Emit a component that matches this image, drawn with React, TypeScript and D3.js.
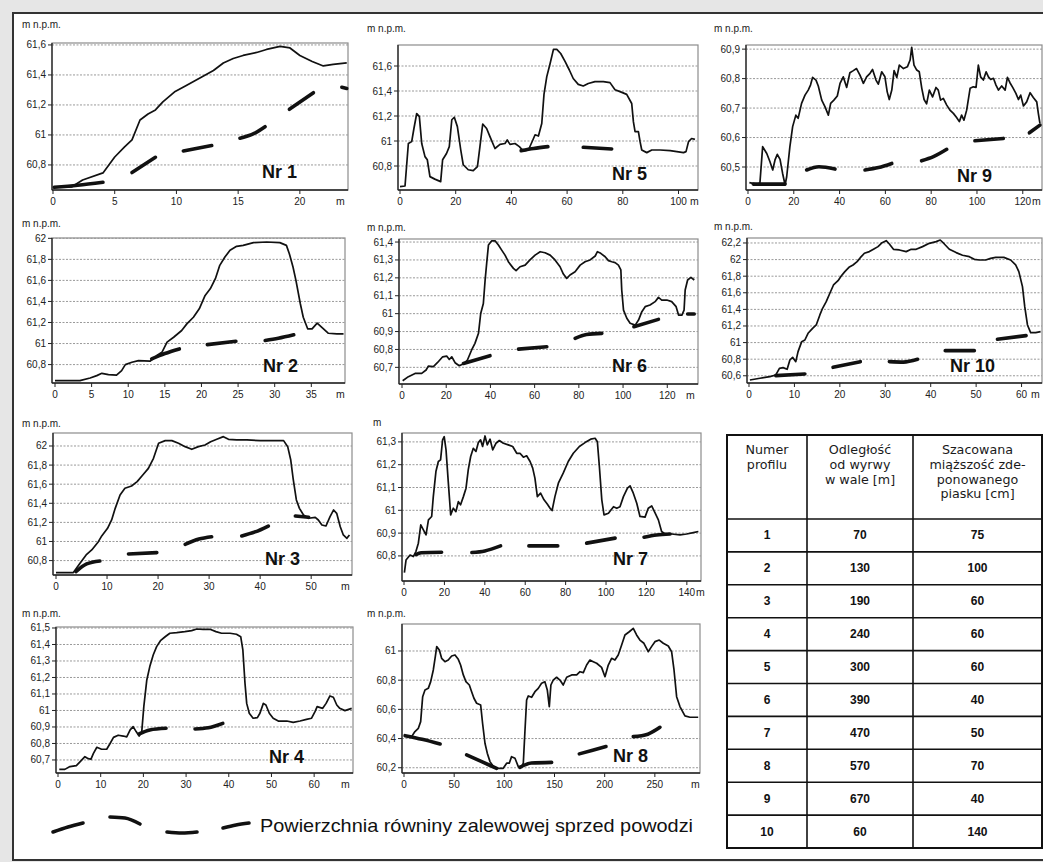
import * as d3 from 'd3'

type Pt = [number, number]

// ---- profile data (distance m, elevation m n.p.m.) ----
const profile1: Pt[] = [[0,60.653],[1.5,60.653],[2.4,60.70],[4.05,60.747],[5.0,60.853],[5.8,60.92],[6.4,60.967],[7.05,61.1],[7.7,61.14],[8.3,61.167],[8.9,61.22],[9.9,61.29],[10.8,61.33],[11.9,61.38],[13,61.43],[13.8,61.48],[14.6,61.51],[15.4,61.53],[16.5,61.55],[17.3,61.57],[18.4,61.59],[19.2,61.58],[20,61.53],[21,61.49],[21.9,61.46],[22.7,61.47],[23.8,61.48]]
const flood1: Pt[][] = [[[0.1,60.651],[2,60.665],[4.05,60.685]],[[6.4,60.749],[8.3,60.851]],[[10.56,60.893],[12.86,60.929]],[[15.15,60.978],[16.3,61.01],[17.18,61.055]],[[19.15,61.171],[21.1,61.282]],[[23.4,61.318],[23.8,61.31]]]

const profile2: Pt[] = [[0,60.648],[3.4,60.648],[4.8,60.673],[5.7,60.695],[6.4,60.717],[7.3,60.705],[8.4,60.70],[9.1,60.743],[9.6,60.80],[10.5,60.822],[11.4,60.838],[13.0,60.832],[13.9,60.886],[14.6,60.917],[15.3,61.013],[16.2,61.06],[17.3,61.124],[18.0,61.187],[18.9,61.25],[19.7,61.33],[20.5,61.457],[21.2,61.52],[21.9,61.616],[22.5,61.743],[23.2,61.822],[23.9,61.886],[24.8,61.924],[25.7,61.933],[27.1,61.959],[28.9,61.965],[30.7,61.959],[31.6,61.933],[32.0,61.854],[32.5,61.727],[32.9,61.60],[33.5,61.378],[33.9,61.25],[34.5,61.14],[35.1,61.14],[35.8,61.194],[36.4,61.156],[37.3,61.098],[38.5,61.092],[39.4,61.092]]
const flood2: Pt[][] = [[[13.2,60.854],[15.0,60.905],[16.98,60.949]],[[20.8,60.99],[24.7,61.022]],[[28.7,61.029],[30.5,61.05],[32.6,61.083]]]

const profile3: Pt[] = [[0,60.674],[3.4,60.674],[4.7,60.771],[5.9,60.859],[7.0,60.911],[8.3,60.998],[8.96,61.058],[10.1,61.138],[10.9,61.225],[11.6,61.347],[12.55,61.487],[13.5,61.557],[14.8,61.581],[15.9,61.627],[17.0,61.696],[18.1,61.766],[19.1,61.871],[20.1,62.028],[21.4,62.056],[22.7,62.056],[24.0,62.028],[25.3,61.993],[26.6,61.965],[27.9,61.993],[29.2,62.01],[30.3,62.045],[31.5,62.07],[32.8,62.098],[33.8,62.07],[35.4,62.063],[37.4,62.063],[40.0,62.056],[42.6,62.056],[44.6,62.056],[45.4,61.993],[46.0,61.853],[46.5,61.644],[47.1,61.435],[47.7,61.347],[48.5,61.277],[49.5,61.243],[50.8,61.253],[51.4,61.225],[52.1,61.173],[52.9,61.162],[53.7,61.26],[54.4,61.33],[55.0,61.295],[55.7,61.155],[56.3,61.068],[57.0,61.033],[57.5,61.068]]
const flood3: Pt[][] = [[[3.9,60.684],[6.0,60.765],[8.6,60.796]],[[14.2,60.869],[19.75,60.883]],[[25.3,60.97],[28,61.025],[30.5,61.05]],[[36.4,61.058],[39,61.1],[41.6,61.162]],[[46.9,61.267],[49.5,61.253]]]

const profile4: Pt[] = [[0.3,60.643],[1.6,60.643],[2.8,60.66],[4.3,60.666],[5.2,60.69],[6.3,60.72],[6.9,60.71],[7.7,60.704],[8.3,60.74],[9.1,60.777],[10.2,60.765],[11.4,60.765],[12.2,60.80],[13.0,60.837],[14.1,60.85],[15.3,60.845],[16.1,60.84],[16.9,60.882],[17.6,60.902],[18.3,60.872],[19.0,60.845],[19.6,60.866],[20.1,61.023],[20.8,61.185],[21.5,61.266],[22.3,61.336],[23.1,61.387],[24.0,61.423],[25.1,61.447],[26.2,61.468],[27.8,61.472],[29.7,61.478],[31.3,61.484],[32.5,61.494],[34.0,61.492],[35.6,61.492],[37.0,61.478],[38.3,61.468],[40.3,61.468],[41.8,61.462],[42.8,61.447],[43.3,61.367],[43.8,61.165],[44.2,61.043],[44.8,60.983],[45.7,60.953],[46.7,60.957],[47.3,60.983],[48.1,61.043],[48.7,61.033],[49.5,60.983],[50.4,60.953],[51.6,60.936],[53.6,60.936],[55.1,60.928],[56.7,60.936],[58.2,60.946],[59.4,60.953],[60.2,60.993],[60.7,61.023],[62.0,61.013],[62.8,61.043],[63.7,61.088],[64.5,61.08],[65.3,61.033],[66.0,61.013],[67.2,60.999],[68.8,61.013]]
const flood4: Pt[][] = [[[19.0,60.858],[21.5,60.882],[25.3,60.892]],[[32.1,60.888],[35.2,60.895],[38.6,60.922]]]

const profile5: Pt[] = [[0,60.635],[1.8,60.64],[3.0,60.98],[4.2,60.995],[5.0,61.10],[6.0,61.22],[6.95,61.195],[7.8,60.98],[8.97,60.875],[9.8,60.85],[10.75,60.715],[12.5,60.695],[14.6,60.675],[15.3,60.85],[16.7,60.90],[17.7,60.955],[18.6,61.17],[19.5,61.19],[20.6,61.115],[21.8,60.93],[22.7,60.81],[24.5,60.77],[26.3,60.763],[27.8,60.795],[28.7,60.955],[29.7,61.136],[31.1,61.10],[32.3,61.035],[34.1,60.94],[35.9,60.973],[37.7,60.98],[38.5,61.008],[39.5,60.973],[41.3,60.98],[42.85,60.955],[44.3,60.92],[46.1,60.928],[47.7,61.008],[48.5,61.05],[49.7,61.04],[50.9,61.14],[51.7,61.373],[52.7,61.515],[53.9,61.62],[55.1,61.733],[56.3,61.733],[57.7,61.70],[59.3,61.635],[60.8,61.568],[62.2,61.50],[64.0,61.453],[65.8,61.44],[67.6,61.46],[70.0,61.475],[73.0,61.475],[75.4,61.467],[77.2,61.41],[79.0,61.395],[81.4,61.373],[83.2,61.30],[83.8,61.155],[84.4,61.075],[85.6,61.075],[86.2,60.995],[86.8,60.928],[88.6,60.907],[90.4,60.928],[93.4,60.928],[97.0,60.923],[101.8,60.907],[102.7,60.915],[103.6,60.995],[104.7,61.02],[105.9,61.013]]
const flood5: Pt[][] = [[[43.5,60.923],[48,60.94],[53.1,60.955]],[[65.8,60.95],[76.0,60.936]]]

const profile6: Pt[] = [[0.3,60.625],[2.9,60.648],[5.9,60.666],[8.9,60.666],[10.9,60.685],[11.9,60.707],[14.2,60.704],[16.0,60.726],[18.4,60.759],[20.2,60.763],[21.4,60.744],[22.5,60.759],[24.0,60.726],[25.9,60.709],[28.1,60.722],[29.6,60.741],[31.5,60.797],[33.0,60.834],[34.6,60.89],[35.6,61.001],[36.8,61.057],[37.6,61.188],[38.3,61.281],[39.1,61.383],[40.6,61.407],[42.1,61.407],[43.6,61.383],[45.1,61.355],[46.6,61.327],[48.1,61.29],[50.4,61.253],[51.6,61.24],[53.4,61.262],[55.7,61.271],[57.9,61.30],[60.2,61.327],[62.5,61.346],[64.7,61.34],[67.0,61.327],[69.2,61.30],[71.5,61.262],[73.0,61.221],[74.5,61.197],[76.0,61.216],[78.3,61.234],[80.6,61.271],[82.8,61.29],[85.1,61.30],[87.4,61.322],[88.4,61.346],[89.9,61.337],[91.9,61.318],[93.4,61.296],[94.9,61.29],[96.4,61.285],[97.9,61.271],[99.0,61.244],[99.4,61.132],[100.2,61.02],[101.7,60.974],[103.2,60.946],[105.5,60.936],[107.0,60.964],[108.5,61.011],[110.0,61.039],[112.2,61.048],[114.5,61.067],[116.0,61.091],[117.5,61.076],[119.8,61.076],[122.0,61.067],[124.0,61.039],[125.1,60.992],[126.6,60.992],[127.6,61.02],[128.1,61.132],[129.2,61.188],[130.7,61.203],[132.2,61.188]]
const flood6: Pt[][] = [[[27.8,60.722],[39.8,60.765]],[[52.7,60.802],[65.5,60.815]],[[78.3,60.862],[83.5,60.884],[90.4,60.89]],[[104.9,60.927],[116.0,60.968]],[[129.2,60.998],[132.2,60.998]]]

const profile7: Pt[] = [[0.2,60.727],[1.0,60.782],[3.0,60.804],[4.6,60.797],[5.9,60.819],[7.1,60.856],[8.3,60.936],[9.6,60.914],[10.9,60.892],[12.1,60.958],[13.7,60.973],[14.5,61.06],[15.8,61.17],[17.0,61.214],[18.1,61.221],[19.1,61.309],[19.9,61.323],[20.8,61.265],[21.9,61.126],[23.1,60.98],[24.4,61.009],[25.7,60.994],[26.9,61.038],[28.0,61.024],[29.4,61.06],[30.7,61.097],[31.8,61.177],[33.0,61.236],[34.3,61.272],[35.6,61.258],[36.8,61.297],[37.9,61.309],[38.9,61.28],[40.1,61.326],[41.2,61.287],[42.6,61.312],[43.9,61.265],[45.5,61.294],[47.2,61.306],[49.2,61.294],[51.6,61.287],[53.8,61.28],[55.8,61.25],[57.4,61.25],[59.1,61.233],[60.7,61.239],[62.4,61.214],[63.7,61.185],[64.8,61.141],[66.0,61.06],[67.6,61.075],[69.3,61.046],[70.9,61.028],[72.3,61.009],[73.3,60.999],[74.7,61.06],[76.4,61.119],[78.8,61.163],[81.3,61.214],[83.8,61.25],[86.8,61.28],[89.6,61.297],[92.4,61.312],[94.6,61.316],[95.7,61.301],[96.7,61.192],[97.9,61.046],[99.0,60.98],[101.2,60.987],[103.7,61.016],[105.3,61.009],[106.9,61.016],[108.6,61.06],[110.6,61.097],[111.9,61.107],[113.5,61.075],[115.2,61.031],[116.8,60.973],[119.3,60.97],[120.9,61.009],[122.6,61.019],[124.2,60.99],[125.9,60.958],[127.5,60.907],[129.2,60.896],[132.5,60.896],[136.6,60.892],[139.9,60.896],[143.2,60.902],[145.7,60.907]]
const flood7: Pt[][] = [[[5.9,60.806],[8.5,60.814],[18.6,60.816]],[[33.6,60.815],[40,60.822],[47.8,60.844]],[[61.8,60.844],[76.1,60.844]],[[90.4,60.856],[104.5,60.878]],[[118.8,60.882],[125,60.892],[131.7,60.896]]]

const profile8: Pt[] = [[7.6,60.413],[10.9,60.448],[14.3,60.47],[16.6,60.516],[18.6,60.687],[20.9,60.733],[24.2,60.744],[26.6,60.79],[29.2,60.87],[31.2,60.961],[32.6,61.03],[35.2,61.007],[37.5,60.95],[40.8,60.927],[44.1,60.938],[47.5,60.966],[50.8,60.973],[54.1,60.943],[56.4,60.904],[59.1,60.836],[61.7,60.79],[65.1,60.767],[67.4,60.721],[69.7,60.676],[72.4,60.642],[76.4,60.63],[78.3,60.505],[80.7,60.368],[83.0,60.30],[85.7,60.242],[89.0,60.208],[92.3,60.196],[98.9,60.196],[102.3,60.231],[104.9,60.231],[107.2,60.276],[110.6,60.265],[113.9,60.208],[117.2,60.208],[118.9,60.231],[120.5,60.447],[122.2,60.664],[123.9,60.692],[127.2,60.683],[130.5,60.721],[133.8,60.744],[137.1,60.779],[140.4,60.79],[142.8,60.733],[144.8,60.619],[146.4,60.767],[148.7,60.801],[152.1,60.82],[155.4,60.801],[158.7,60.767],[162.1,60.82],[167.1,60.836],[172.1,60.836],[175.4,60.858],[178.7,60.852],[182.0,60.904],[185.3,60.938],[188.6,60.927],[192.0,60.916],[196.9,60.888],[200.3,60.824],[203.6,60.904],[206.9,60.95],[210.2,60.938],[213.5,60.973],[216.9,61.041],[220.2,61.11],[224.5,61.132],[228.5,61.155],[231.8,61.11],[235.1,61.075],[239.1,61.053],[243.4,60.995],[246.7,61.03],[250.1,61.064],[254.4,61.075],[258.4,61.053],[263.4,61.034],[266.7,60.995],[269.1,60.87],[271.7,60.687],[275.0,60.619],[280.0,60.555],[285.0,60.546],[293.2,60.546]]
const flood8: Pt[][] = [[[1.1,60.42],[18,60.395],[36.0,60.363]],[[62.4,60.288],[78,60.24],[92.3,60.196]],[[115.5,60.203],[127,60.232],[147.1,60.237]],[[174.7,60.295],[188,60.32],[201.3,60.345]],[[228.5,60.413],[243,60.43],[255.1,60.477]]]

const profile9: Pt[] = [[0.6,60.447],[3.8,60.442],[5.2,60.445],[6.4,60.569],[8.2,60.546],[9.6,60.518],[10.8,60.49],[11.8,60.524],[12.8,60.543],[14.0,60.526],[15.1,60.479],[16.2,60.439],[16.9,60.467],[18.3,60.569],[19.5,60.637],[20.9,60.676],[21.9,60.665],[23.4,60.716],[24.9,60.744],[26.3,60.761],[27.3,60.778],[28.2,60.804],[29.7,60.795],[30.7,60.775],[32.2,60.727],[33.6,60.705],[35.1,60.676],[36.1,60.716],[37.5,60.727],[39.0,60.741],[40.2,60.784],[41.6,60.806],[43.1,60.77],[44.5,60.82],[46.0,60.827],[47.4,60.834],[48.9,60.812],[50.4,60.784],[51.8,60.806],[53.3,60.818],[54.4,60.831],[55.9,60.795],[56.9,60.781],[58.4,60.823],[59.8,60.806],[60.8,60.755],[61.7,60.729],[62.8,60.761],[63.8,60.827],[65.0,60.804],[66.1,60.846],[67.9,60.834],[69.6,60.84],[70.8,60.863],[71.5,60.906],[72.5,60.846],[73.7,60.829],[74.8,60.823],[75.9,60.767],[76.9,60.729],[78.0,60.714],[79.2,60.761],[80.6,60.738],[82.1,60.77],[83.1,60.761],[84.1,60.727],[85.3,60.733],[86.8,60.71],[88.2,60.693],[89.7,60.682],[91.1,60.668],[92.3,60.654],[93.3,60.676],[94.3,60.659],[95.5,60.693],[97.0,60.767],[98.4,60.772],[99.6,60.77],[100.6,60.846],[101.6,60.806],[102.8,60.795],[104.0,60.823],[105.0,60.806],[106.0,60.797],[107.2,60.801],[108.3,60.778],[109.4,60.761],[110.8,60.775],[112.3,60.761],[113.3,60.804],[114.4,60.786],[115.6,60.77],[117.0,60.75],[118.1,60.729],[119.1,60.744],[120.3,60.707],[121.7,60.721],[123.2,60.752],[124.6,60.736],[126.1,60.721],[126.8,60.682],[127.5,60.648]]
const flood9: Pt[][] = [[[2.3,60.442],[16.2,60.442]],[[25.6,60.49],[31,60.501],[38.0,60.493]],[[51.1,60.49],[57,60.498],[62.8,60.512]],[[75.8,60.521],[81,60.535],[86.8,60.56]],[[99.1,60.589],[111.5,60.597]],[[122.9,60.616],[127.5,60.642]]]

const profile10: Pt[] = [[0.2,60.549],[2.4,60.57],[4.6,60.59],[5.9,60.61],[6.7,60.69],[7.5,60.698],[8.4,60.678],[9.0,60.79],[9.6,60.822],[10.3,60.77],[10.8,60.891],[11.6,61.011],[12.3,61.031],[13.0,61.112],[14.0,61.172],[14.8,61.212],[15.6,61.333],[16.2,61.413],[17.0,61.493],[17.8,61.594],[18.6,61.694],[19.6,61.746],[20.3,61.802],[21.1,61.855],[22.0,61.907],[22.9,61.935],[23.8,61.975],[24.5,62.023],[25.4,62.076],[26.5,62.096],[27.4,62.124],[28.4,62.156],[29.3,62.204],[30.2,62.228],[30.9,62.188],[31.8,62.124],[33.1,62.116],[34.6,62.096],[35.7,62.124],[36.8,62.124],[38.2,62.156],[39.7,62.196],[41.2,62.216],[42.1,62.236],[43.0,62.188],[44.1,62.124],[45.6,62.084],[47.0,62.052],[48.5,62.035],[49.6,62.003],[50.7,61.995],[52.1,61.995],[53.2,62.015],[54.3,62.027],[56.1,62.027],[57.6,61.995],[58.7,61.935],[59.4,61.855],[60.2,61.674],[60.7,61.433],[61.3,61.212],[62.0,61.12],[63.1,61.12],[64.2,61.132]]
const flood10: Pt[][] = [[[5.9,60.602],[12.3,60.622]],[[18.5,60.702],[24.5,60.77]],[[30.9,60.77],[34,60.765],[37.1,60.798]],[[43.2,60.903],[49.6,60.903]],[[54.7,61.04],[61.0,61.084]]]

// ---- axis ticks ----
const xTicks1 = [0, 5, 10, 15, 20]
const yTicks1 = [60.8, 61, 61.2, 61.4, 61.6]
const xTicks2 = [0, 5, 10, 15, 20, 25, 30, 35]
const yTicks2 = [60.8, 61, 61.2, 61.4, 61.6, 61.8, 62]
const xTicks3 = [0, 10, 20, 30, 40, 50]
const yTicks3 = [60.8, 61, 61.2, 61.4, 61.6, 61.8, 62]
const xTicks4 = [0, 10, 20, 30, 40, 50, 60]
const yTicks4 = [60.7, 60.8, 60.9, 61, 61.1, 61.2, 61.3, 61.4, 61.5]
const xTicks5 = [0, 20, 40, 60, 80, 100]
const yTicks5 = [60.8, 61, 61.2, 61.4, 61.6]
const xTicks6 = [0, 20, 40, 60, 80, 100, 120]
const yTicks6 = [60.7, 60.8, 60.9, 61, 61.1, 61.2, 61.3, 61.4]
const xTicks7 = [0, 20, 40, 60, 80, 100, 120, 140]
const yTicks7 = [60.8, 60.9, 61, 61.1, 61.2, 61.3]
const xTicks8 = [0, 50, 100, 150, 200, 250]
const yTicks8 = [60.2, 60.4, 60.6, 60.8, 61]
const xTicks9 = [0, 20, 40, 60, 80, 100, 120]
const yTicks9 = [60.5, 60.6, 60.7, 60.8, 60.9]
const xTicks10 = [0, 10, 20, 30, 40, 50, 60]
const yTicks10 = [60.6, 60.8, 61, 61.2, 61.4, 61.6, 61.8, 62, 62.2]

// ---- table ----
const profileNumbers = [1, 2, 3, 4, 5, 6, 7, 8, 9, 10]
const distances = [70, 130, 190, 240, 300, 390, 470, 570, 670, 60]
const thicknesses = [75, 100, 60, 60, 60, 40, 50, 70, 40, 140]
const headerCol1 = ['Numer', 'profilu']
const headerCol2 = ['Odległość', 'od wyrwy', 'w wale [m]']
const headerCol3 = ['Szacowana', 'miąższość zde-', 'ponowanego', 'piasku [cm]']

const legendLabel = 'Powierzchnia równiny zalewowej sprzed powodzi'

const fmt = (v: number) => String(+v.toFixed(1)).replace('.', ',')

interface PanelCfg {
  name: string
  yLabel: string
  rect: { x: number; y: number; w: number; h: number }
  xDomain: [number, number]
  yDomain: [number, number]
  xTicks: number[]
  yTicks: number[]
  profile: Pt[]
  flood: Pt[][]
  namePos: [number, number]
  unitX: number
  labelPos: [number, number]
}

const panels: PanelCfg[] = [
  { name: 'Nr 1', yLabel: 'm n.p.m.', rect: { x: 52, y: 43, w: 296, h: 147 }, xDomain: [-0.08, 23.9], yDomain: [60.633, 61.613], xTicks: xTicks1, yTicks: yTicks1, profile: profile1, flood: flood1, namePos: [262, 178], unitX: 336, labelPos: [22, 28] },
  { name: 'Nr 5', yLabel: 'm n.p.m.', rect: { x: 398, y: 45, w: 300, h: 145 }, xDomain: [-0.72, 107], yDomain: [60.608, 61.768], xTicks: xTicks5, yTicks: yTicks5, profile: profile5, flood: flood5, namePos: [612, 180], unitX: 690, labelPos: [367, 32] },
  { name: 'Nr 9', yLabel: 'm n.p.m.', rect: { x: 746, y: 45, w: 296, h: 145 }, xDomain: [-0.87, 128.4], yDomain: [60.422, 60.914], xTicks: xTicks9, yTicks: yTicks9, profile: profile9, flood: flood9, namePos: [957, 182], unitX: 1032, labelPos: [714, 32] },
  { name: 'Nr 2', yLabel: 'm n.p.m.', rect: { x: 52, y: 238, w: 293, h: 145 }, xDomain: [-0.41, 39.6], yDomain: [60.625, 62.003], xTicks: xTicks2, yTicks: yTicks2, profile: profile2, flood: flood2, namePos: [263, 372], unitX: 336, labelPos: [22, 227] },
  { name: 'Nr 6', yLabel: 'm n.p.m.', rect: { x: 399, y: 239, w: 299, h: 145 }, xDomain: [-1.36, 133.9], yDomain: [60.607, 61.417], xTicks: xTicks6, yTicks: yTicks6, profile: profile6, flood: flood6, namePos: [612, 372], unitX: 686, labelPos: [367, 231] },
  { name: 'Nr 10', yLabel: 'm n.p.m.', rect: { x: 747, y: 238, w: 295, h: 145 }, xDomain: [-0.44, 64.5], yDomain: [60.513, 62.26], xTicks: xTicks10, yTicks: yTicks10, profile: profile10, flood: flood10, namePos: [950, 372], unitX: 1031, labelPos: [714, 230] },
  { name: 'Nr 3', yLabel: 'm n.p.m.', rect: { x: 53, y: 433, w: 299, h: 142 }, xDomain: [-0.59, 58], yDomain: [60.649, 62.136], xTicks: xTicks3, yTicks: yTicks3, profile: profile3, flood: flood3, namePos: [265, 565], unitX: 341, labelPos: [22, 427] },
  { name: 'Nr 7', yLabel: 'm', rect: { x: 402, y: 433, w: 299, h: 148 }, xDomain: [-0.99, 147], yDomain: [60.69, 61.339], xTicks: xTicks7, yTicks: yTicks7, profile: profile7, flood: flood7, namePos: [613, 565], unitX: 696, labelPos: [373, 426] },
  { name: 'Nr 4', yLabel: 'm n.p.m.', rect: { x: 56, y: 627, w: 297, h: 146 }, xDomain: [-0.47, 69.1], yDomain: [60.621, 61.506], xTicks: xTicks4, yTicks: yTicks4, profile: profile4, flood: flood4, namePos: [269, 763], unitX: 341, labelPos: [22, 617] },
  { name: 'Nr 8', yLabel: 'm n.p.m.', rect: { x: 402, y: 624, w: 298, h: 149 }, xDomain: [-2, 295], yDomain: [60.164, 61.185], xTicks: xTicks8, yTicks: yTicks8, profile: profile8, flood: flood8, namePos: [613, 762], unitX: 691, labelPos: [367, 617] },
]

const tickFont = '"Liberation Sans", Arial, sans-serif'

function Panel({ cfg }: { cfg: PanelCfg }) {
  const { rect } = cfg
  const x = d3.scaleLinear().domain(cfg.xDomain).range([rect.x, rect.x + rect.w])
  const y = d3.scaleLinear().domain(cfg.yDomain).range([rect.y + rect.h, rect.y])
  const line = d3.line<Pt>().x(d => x(d[0])).y(d => y(d[1]))
  const dash = d3.line<Pt>().x(d => x(d[0])).y(d => y(d[1])).curve(d3.curveMonotoneX)
  const bottom = rect.y + rect.h

  return (
    <g>
      <text x={cfg.labelPos[0]} y={cfg.labelPos[1]} fontSize={10} fontFamily={tickFont} fill="#222">
        {cfg.yLabel}
      </text>
      <rect x={rect.x} y={rect.y} width={rect.w} height={rect.h} fill="#fff" stroke="#8c8c8c" strokeWidth={1.2} />
      {cfg.yTicks.map(t => (
        <line key={t} x1={rect.x} x2={rect.x + rect.w} y1={y(t)} y2={y(t)} stroke="#999" strokeWidth={1} strokeDasharray="2,1.5" />
      ))}
      {cfg.flood.map((seg, i) => (
        <path key={i} d={dash(seg) ?? ''} fill="none" stroke="#111" strokeWidth={3.6} strokeLinecap="round" />
      ))}
      <path d={line(cfg.profile) ?? ''} fill="none" stroke="#111" strokeWidth={1.7} strokeLinejoin="round" />
      <line x1={rect.x} x2={rect.x} y1={rect.y} y2={bottom} stroke="#222" strokeWidth={1.3} />
      <line x1={rect.x} x2={rect.x + rect.w} y1={bottom} y2={bottom} stroke="#222" strokeWidth={1.3} />
      {cfg.yTicks.map(t => (
        <g key={t}>
          <line x1={rect.x - 4} x2={rect.x} y1={y(t)} y2={y(t)} stroke="#222" />
          <text x={rect.x - 6} y={y(t)} dy="0.35em" textAnchor="end" fontSize={10} fontFamily={tickFont} fill="#222">
            {fmt(t)}
          </text>
        </g>
      ))}
      {cfg.xTicks.map(t => (
        <g key={t}>
          <line x1={x(t)} x2={x(t)} y1={bottom} y2={bottom + 4} stroke="#222" />
          <text x={x(t)} y={bottom + 15} textAnchor="middle" fontSize={10} fontFamily={tickFont} fill="#222">
            {fmt(t)}
          </text>
        </g>
      ))}
      <text x={cfg.unitX} y={bottom + 15} fontSize={10.5} fontFamily={tickFont} fill="#222">
        m
      </text>
      <text x={cfg.namePos[0]} y={cfg.namePos[1]} fontSize={18} fontWeight="bold" fontFamily={tickFont} fill="#111">
        {cfg.name}
      </text>
    </g>
  )
}

function Table() {
  const cols = [727, 807, 913, 1042]
  const top = 435
  const headBottom = 519
  const row = d3.scaleLinear().domain([0, profileNumbers.length]).range([headBottom, 848])
  const colMid = (i: number) => (cols[i] + cols[i + 1]) / 2
  const headFont = '"DejaVu Sans", sans-serif'
  const headers = [headerCol1, headerCol2, headerCol3]
  return (
    <g>
      <rect x={cols[0]} y={top} width={cols[3] - cols[0]} height={848 - top} fill="#fff" stroke="#111" strokeWidth={2} />
      {cols.slice(1, 3).map(c => (
        <line key={c} x1={c} x2={c} y1={top} y2={848} stroke="#111" strokeWidth={1.6} />
      ))}
      {d3.range(0, profileNumbers.length).map(i => (
        <line key={i} x1={cols[0]} x2={cols[3]} y1={row(i)} y2={row(i)} stroke="#111" strokeWidth={1.6} />
      ))}
      {headers.map((lines, ci) => (
        <text key={ci} textAnchor="middle" fontSize={12.7} fontFamily={headFont} fill="#1a1a1a">
          {lines.map((l, li) => (
            <tspan key={li} x={colMid(ci)} y={454 + li * 14.8}>{l}</tspan>
          ))}
        </text>
      ))}
      {profileNumbers.map((n, i) => {
        const cy = (row(i) + row(i + 1)) / 2 + 4
        return (
          <g key={n} fontSize={12} fontWeight="bold" fontFamily={tickFont} fill="#111" textAnchor="middle">
            <text x={colMid(0)} y={cy}>{n}</text>
            <text x={colMid(1)} y={cy}>{distances[i]}</text>
            <text x={colMid(2)} y={cy}>{thicknesses[i]}</text>
          </g>
        )
      })}
    </g>
  )
}

// legend sample dashes, relative to the legend origin
const legendDashes: Pt[][] = [
  [[0, 9], [15, 4], [30, 0]],
  [[57, -6], [72, -5], [87, 1]],
  [[114, 9], [129, 10], [144, 9]],
  [[170, 5], [183, 2], [196, 0]],
]

function Legend() {
  const ox = 53
  const oy = 823
  const l = d3.line<Pt>().x(d => ox + d[0]).y(d => oy + d[1]).curve(d3.curveMonotoneX)
  return (
    <g>
      {legendDashes.map((seg, i) => (
        <path key={i} d={l(seg) ?? ''} fill="none" stroke="#111" strokeWidth={3.6} strokeLinecap="round" />
      ))}
      <text x={260} y={832} fontSize={18.5} fontFamily={tickFont} fill="#111" textLength={433} lengthAdjust="spacingAndGlyphs">
        {legendLabel}
      </text>
    </g>
  )
}

export default function App() {
  return (
    <div style={{ position: 'absolute', left: 0, top: 0 }}>
      <svg width={1043} height={862} style={{ display: 'block' }}>
        <rect x={0} y={0} width={1043} height={862} fill="#e6e6e6" />
        <rect x={13} y={13} width={1040} height={847} fill="#fff" stroke="#333" strokeWidth={2} />
        {panels.map(p => (
          <Panel key={p.name} cfg={p} />
        ))}
        <Table />
        <Legend />
      </svg>
    </div>
  )
}
